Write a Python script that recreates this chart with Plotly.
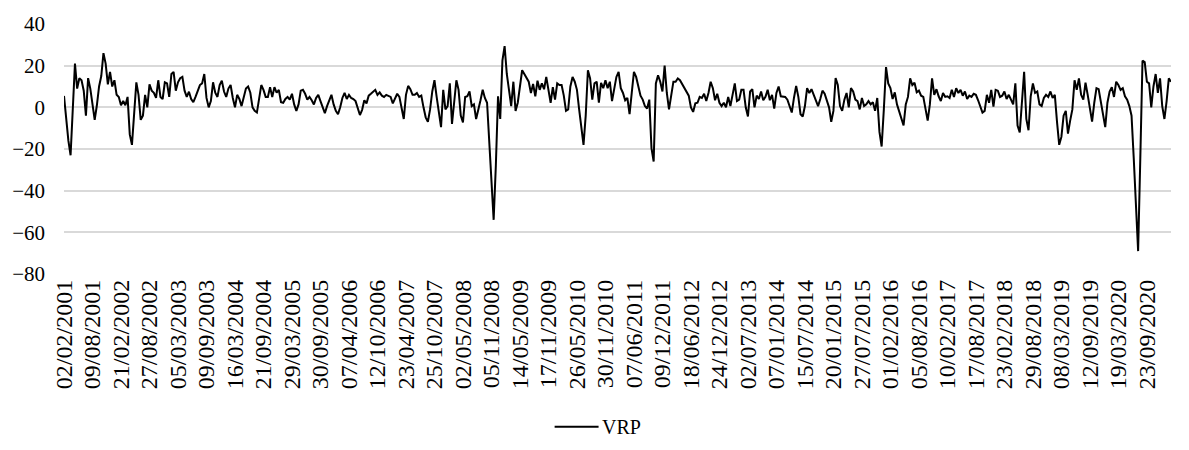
import numpy as np
import plotly.graph_objects as go

# Category labels shown on the x axis (one every 130 trading days)
tick_labels = [
    "02/02/2001", "09/08/2001", "21/02/2002", "27/08/2002", "05/03/2003",
    "09/09/2003", "16/03/2004", "21/09/2004", "29/03/2005", "30/09/2005",
    "07/04/2006", "12/10/2006", "23/04/2007", "25/10/2007", "02/05/2008",
    "05/11/2008", "14/05/2009", "17/11/2009", "26/05/2010", "30/11/2010",
    "07/06/2011", "09/12/2011", "18/06/2012", "24/12/2012", "02/07/2013",
    "07/01/2014", "15/07/2014", "20/01/2015", "27/07/2015", "01/02/2016",
    "05/08/2016", "10/02/2017", "17/08/2017", "23/02/2018", "29/08/2018",
    "08/03/2019", "12/09/2019", "19/03/2020", "23/09/2020",
]
TICK_EVERY = 130   # trading days between labelled categories
STEP = 10          # trading days between stored observations

# VRP observations, every 10 trading days
vrp_2001_2002 = [
    5.5, -6, -16, -23, -3, 21, 9, 14, 13, 8, -4, 14, 9,
    2, -6, 1, 10, 15, 26, 21, 11, 17, 10, 13, 6, 5,
    1, 3, 1, 5, -13, -18, 0, 12, 6, -6, -4, 6, 0,
    11, 8, 7, 4.5, 13, 5, 4, 12, 11.5, 5, 16, 17, 8,
]
vrp_2003_2004 = [
    12, 14, 14.6, 8, 5, 7.5, 4, 2.5, 5, 7.5, 10.7, 11.5, 16,
    4.5, 0, 3, 12, 7, 5, 10.7, 12.8, 7.6, 5, 9, 10.7, 4.5,
    0, 6, 4, 0.6, 4.5, 9, 10, 7, 0, -1.7, -2.5, 3.7, 10.7,
    8.4, 5, 5, 9.7, 5, 9.7, 7, 8.4, 2.5, 2.2, 4, 5, 3.7,
]
vrp_2005_2006 = [
    6.5, 1.4, -1.7, 1.4, 8, 8.4, 6.5, 3.7, 5, 3.4, 1.4, 4.5, 6,
    3, 0, -2.8, 0.6, 3, 6, 1.4, -1.7, -3.3, 0, 4.5, 6.9, 4,
    6, 4.5, 4, 3, -1, -3.7, -1.2, 3.4, 1.9, 5.6, 6.5, 7.5, 8.4,
    6, 7.2, 5.6, 5, 6, 5.6, 5, 1.9, 4, 6.5, 5, -1, -5.6,
]
vrp_2007_2008 = [
    6, 10.3, 8.7, 6, 6, 6.9, 5, 5.6, 0, -4.8, -6.9, -1, 7.6,
    13, 5, -1.7, -9.5, 8.4, -1, 0.6, 11.5, -8, 4.5, 13, 8.4, -4,
    -7.2, 5, 5.3, 7.6, 0.6, 1.4, -5.6, -1.7, 3.4, 8.4, 4.5, 2.2, -16,
    -35, -54, -28, 5.3, -5.6, 22.4, 29.4, 16, 8.4, 0.6, 12.3, -1.7, 2.2,
]
vrp_2009_2010 = [
    10, 17.8, 16, 13.9, 12.3, 6.9, 11.2, 5.3, 12.8, 8.4, 11.5, 8.7, 14.6,
    8.4, 2.2, 9.7, 3.7, 11.5, 10.7, 10.7, 5.6, -1.7, -1, 10, 14.6, 12.3,
    8.4, -1, -11, -18, -4, 17.8, 13.9, 3.7, 11.5, 12.3, 2.2, 11.8, 9.2,
    13, 9.2, 12.3, 3, 8.4, 14.6, 17, 9.2, 6.9, 3.4, 4.5, -3.3, 6.9,
]
vrp_2011_2012 = [
    17, 14.6, 9.2, 5.6, 3.7, 0.6, -0.6, 3.7, -19.6, -26, 11.5, 15.4, 12.3,
    7.6, 20, 6.9, -1, 6.9, 12.3, 12.3, 13.9, 13, 11.2, 9.7, 8, 5.6,
    0, -2.2, 1.9, 2.2, 5, 4.5, 6.5, 3, 6.9, 12.3, 9.2, 3.4, 6.5,
    2.2, 0.6, 2.2, 0, 5, 0.6, 6, 11.5, 3, 3.7, 8.4, 8.4, 0,
]
vrp_2013_2014 = [
    -4.4, 7.6, 8.7, 0, 5.6, 4, 7.6, 3.4, 5, 8.4, 3.4, 6, -0.6,
    6.9, 10, 5.3, 5, 5, 3.7, 0, -2.5, 4.5, 10.3, 5, -3.3, -4.4,
    0.6, 9.2, 6.9, 8.7, 6, 3.4, 0.6, 4, 8, 6.5, 3, 0, -7,
    -1.7, 14, 10.7, 0.6, -1.7, 3.7, 6.9, 0, 9.2, 7.6, 3.7, 3, -1,
]
vrp_2015_2016 = [
    4.5, 0.6, 1.4, 3, 1.4, 2.5, -1.7, 4.5, -11.8, -18.8, -1, 19.3, 11.5,
    9.2, 4, 7.2, 1.4, -1.7, -4.8, -8.7, 1.4, 5, 13.9, 10.7, 11.8, 7.2,
    8, 5.6, 5, -1.7, -6.4, 1.4, 13.9, 6, 8.7, 5.3, 3, 6.9, 5,
    5.3, 4.5, 8.4, 5, 9.2, 6.9, 8.4, 5.6, 7.6, 4, 5.6, 5, 6.5,
]
vrp_2017_2018 = [
    6, 3.4, 0.3, -2.5, -1.7, 6, 2.2, 8.4, 0.3, 8.4, 8, 5, 5.6,
    7.6, 4, 6, 3.7, 1.4, 11.5, -8.7, -12.1, 5.3, 17, -5.6, -11, 5.3,
    11.5, 6.9, 7.6, 1.4, 0.6, 4.5, 6, 5, 7.6, 4.5, 6, -7, -18,
    -14.2, -4, -1.7, -12.6, -6.4, -1, 13, 8.4, 13.9, 6, 3.7, 11.8, 6,
]
vrp_2019_2021 = [
    -1, -6.9, 2.2, 9.2, 8.7, 3, -4, -9.5, 2.2, 7.6, 9.7, 5, 12.3,
    10.7, 8.4, 9.2, 5.3, 3.7, 0.6, -4, -24.3, -47.7, -69, -24.3, 22.4, 21.7,
    12.3, 11.5, 0, 10, 16, 6.9, 13.9, 0.6, -5.6, 3, 13.9, 12.3,
]

vrp = (vrp_2001_2002 + vrp_2003_2004 + vrp_2005_2006 + vrp_2007_2008
       + vrp_2009_2010 + vrp_2011_2012 + vrp_2013_2014 + vrp_2015_2016
       + vrp_2017_2018 + vrp_2019_2021)
day_index = np.arange(len(vrp)) * STEP

SERIF = "Liberation Serif, Times New Roman, serif"
LINE_COLOR = "black"

fig = go.Figure(
    go.Scatter(
        x=day_index,
        y=vrp,
        mode="lines",
        name="VRP",
        line=dict(color=LINE_COLOR, width=2.0),
        showlegend=False,
    )
)

# Legend key below the axis labels: a short line sample followed by the series name
LEGEND_Y = -0.611
fig.add_shape(
    type="line", xref="paper", yref="paper",
    x0=0.4432, x1=0.4829, y0=LEGEND_Y, y1=LEGEND_Y,
    line=dict(color=LINE_COLOR, width=2.0),
)
fig.add_annotation(
    xref="paper", yref="paper", x=0.4838, y=LEGEND_Y,
    xanchor="left", yanchor="middle", showarrow=False,
    text="VRP", font=dict(family=SERIF, size=20, color="black"),
)

fig.update_layout(
    width=1189,
    height=450,
    margin=dict(l=61, r=18, t=17, b=176),
    paper_bgcolor="white",
    plot_bgcolor="white",
    font=dict(family=SERIF, size=21, color="black"),
)

fig.update_xaxes(
    range=[0, day_index[-1]],
    tickmode="array",
    tickvals=np.arange(len(tick_labels)) * TICK_EVERY,
    ticktext=tick_labels,
    tickangle=-90,
    tickfont=dict(family=SERIF, size=24, color="black"),
    showgrid=False,
    zeroline=False,
    showline=False,
    ticks="",
)

fig.update_yaxes(
    range=[-80, 40],
    tick0=-80,
    dtick=20,
    showgrid=True,
    gridcolor="#d9d9d9",
    gridwidth=1.5,
    zeroline=False,
    showline=False,
    ticks="",
    ticklabelstandoff=18,
)

fig.write_html("out.html")
